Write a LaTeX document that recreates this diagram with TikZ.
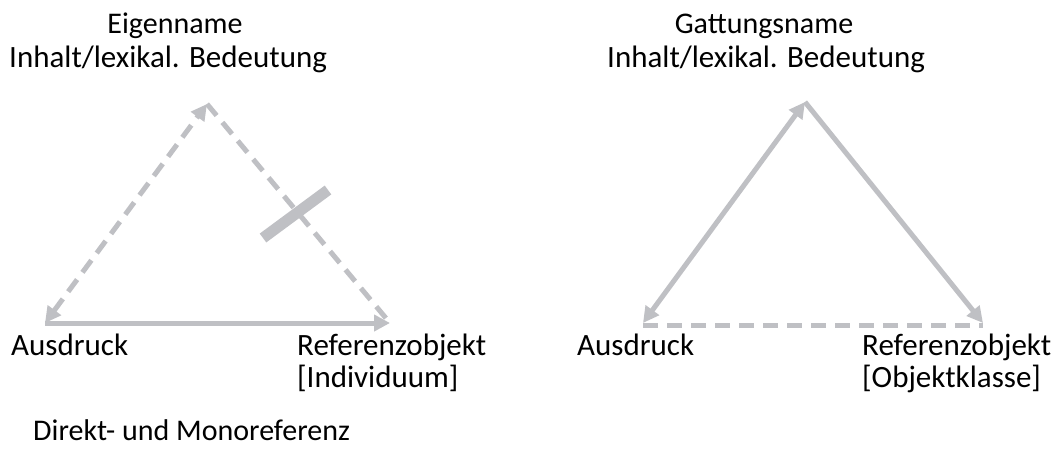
\documentclass[tikz,border=0pt]{standalone}
\usepackage{fontspec}
\setmainfont{Carlito}
\usetikzlibrary{arrows.meta}
\definecolor{linegray}{RGB}{191,192,196}
\tikzset{
  conn/.style={draw=linegray, line width=5pt},
  dashconn/.style={conn, dash pattern=on 15pt off 9pt},
  tip/.style={-{Triangle[length=16pt,width=16pt]}},
  bothtips/.style={{Triangle[length=16pt,width=16pt]}-{Triangle[length=16pt,width=16pt]}},
  lbl/.style={inner sep=0pt, font=\fontsize{31}{36}\selectfont},
  ttl/.style={inner sep=0pt, font=\fontsize{30}{36}\selectfont},
}
\begin{document}
\begin{tikzpicture}[x=1pt,y=-1pt]
\useasboundingbox[fill=white] (0,0) rectangle (1060,455);
% left triangle
\coordinate (A1) at (45,323);
\coordinate (R1) at (390,323);
\coordinate (T1) at (207,104);
\coordinate (X1) at (263,238);
\coordinate (X2) at (328,190);
\draw[dashconn, bothtips] (A1) -- (T1);
\draw[dashconn] (T1) -- (R1);
\draw[conn, tip] (A1) -- (R1);
\draw[draw=linegray, line width=11pt] (X1) -- (X2);
% right triangle
\coordinate (A2) at (643,323);
\coordinate (R2) at (983,323);
\coordinate (T2) at (805,102);
\draw[dashconn] ([yshift=-2pt]A2) -- ([yshift=-2pt]R2);
\draw[conn, bothtips] (A2) -- (T2);
\draw[conn, tip] (T2) -- (R2);
% texts
\node[ttl, anchor=base] (t1) at (175,33) {Eigenname};
\node[lbl, anchor=base west] (s1) at (9,67) {Inhalt/lexikal. Bedeutung};
\node[ttl, anchor=base] (t2) at (764,33) {Gattungsname};
\node[lbl, anchor=base west] (s2) at (607,67) {Inhalt/lexikal. Bedeutung};
\node[lbl, anchor=base west] (a1) at (11,355) {Ausdruck};
\node[lbl, anchor=base west] (r1) at (297,355) {Referenzobjekt};
\node[lbl, anchor=base west] (r1b) at (297,387) {[Individuum]};
\node[lbl, anchor=base west] (a2) at (577,355) {Ausdruck};
\node[lbl, anchor=base west] (r2) at (862,355) {Referenzobjekt};
\node[lbl, anchor=base west] (r2b) at (862,387) {[Objektklasse]};
\node[ttl, anchor=base west] (d) at (33,440) {Direkt- und Monoreferenz};
\end{tikzpicture}
\end{document}
